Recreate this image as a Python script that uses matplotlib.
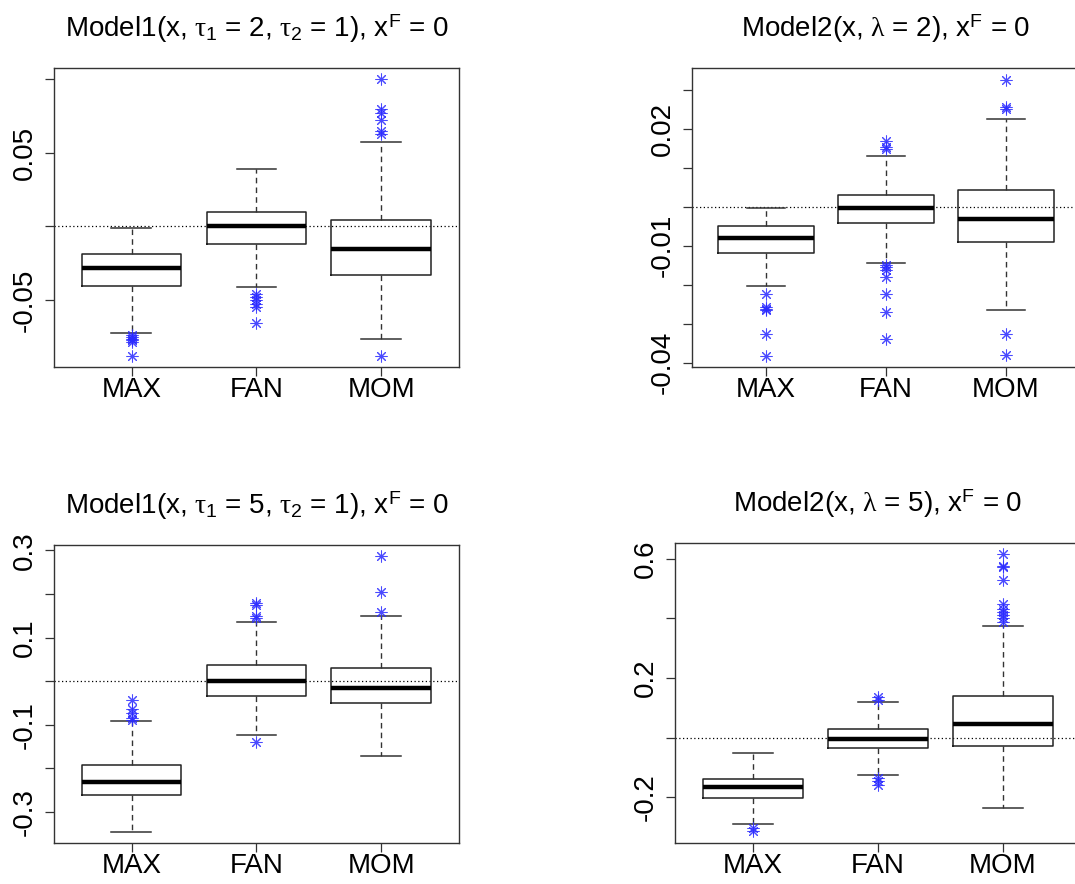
import matplotlib.pyplot as plt

plt.rcParams['font.family'] = ['Liberation Sans', 'DejaVu Sans']
plt.rcParams['mathtext.fontset'] = 'custom'
plt.rcParams['mathtext.rm'] = 'Liberation Sans'
plt.rcParams['mathtext.sf'] = 'Liberation Sans'
plt.rcParams['mathtext.it'] = 'Liberation Serif'
plt.rcParams['mathtext.bf'] = 'Liberation Sans:bold'

metodos = ["MAX", "FAN", "MOM"]

# Model1, tau1 = 2
m1a_med = [-0.0283, 0.0000, -0.0152]
m1a_q1 = [-0.0405, -0.0118, -0.0326]
m1a_q3 = [-0.0186, 0.0097, 0.0041]
m1a_lo = [-0.0724, -0.0410, -0.0760]
m1a_hi = [-0.0014, 0.0387, 0.0570]
m1a_fliers = [
    [-0.0738, -0.0749, -0.0760, -0.0771, -0.0780, -0.0880],
    [-0.0455, -0.0477, -0.0500, -0.0523, -0.0545, -0.0654],
    [0.1000, 0.0794, 0.0767, 0.0722, 0.0643, 0.0627, -0.0880],
]

# Model2, lambda = 2
m2a_med = [-0.0079, -0.0002, -0.0032]
m2a_q1 = [-0.0118, -0.0041, -0.0090]
m2a_q3 = [-0.0049, 0.0031, 0.0042]
m2a_lo = [-0.0204, -0.0144, -0.0264]
m2a_hi = [-0.0004, 0.0131, 0.0225]
m2a_fliers = [
    [-0.0225, -0.0258, -0.0261, -0.0264, -0.0326, -0.0384],
    [0.0170, 0.0154, 0.0147, -0.0150, -0.0154, -0.0161, -0.0180, -0.0223, -0.0270, -0.0340],
    [0.0326, 0.0257, 0.0252, -0.0326, -0.0381],
]

# Model1, tau1 = 5
m1b_med = [-0.2305, 0.0000, -0.0153]
m1b_q1 = [-0.2610, -0.0344, -0.0496]
m1b_q3 = [-0.1931, 0.0366, 0.0313]
m1b_lo = [-0.3458, -0.1229, -0.1725]
m1b_hi = [-0.0916, 0.1359, 0.1489]
m1b_fliers = [
    [-0.0443, -0.0641, -0.0733, -0.0847, -0.0885],
    [0.1786, 0.1748, 0.1496, 0.1458, -0.1397],
    [0.2878, 0.2038, 0.1595],
]

# Model2, lambda = 5
m2b_med = [-0.1665, -0.0034, 0.0458]
m2b_q1 = [-0.2034, -0.0358, -0.0268]
m2b_q3 = [-0.1397, 0.0279, 0.1385]
m2b_lo = [-0.2905, -0.1263, -0.2369]
m2b_hi = [-0.0514, 0.1184, 0.3743]
m2b_fliers = [
    [-0.3039, -0.3151],
    [0.1374, 0.1263, -0.1363, -0.1475, -0.1587],
    [0.6179, 0.5777, 0.5732, 0.5285, 0.4503, 0.4335, 0.4223, 0.4112, 0.4000, 0.3888],
]

titulos = [
    r"Model1(x, $\tau_1$ = 2, $\tau_2$ = 1), $\mathrm{x}^{\mathrm{F}}$ = 0",
    r"Model2(x, $\lambda$ = 2), $\mathrm{x}^{\mathrm{F}}$ = 0",
    r"Model1(x, $\tau_1$ = 5, $\tau_2$ = 1), $\mathrm{x}^{\mathrm{F}}$ = 0",
    r"Model2(x, $\lambda$ = 5), $\mathrm{x}^{\mathrm{F}}$ = 0",
]

ticks_y = [
    ([-0.05, 0.0, 0.05, 0.1], ["-0.05", "", "0.05", ""]),
    ([-0.04, -0.03, -0.02, -0.01, 0.0, 0.01, 0.02, 0.03],
     ["-0.04", "", "", "-0.01", "", "", "0.02", ""]),
    ([-0.3, -0.2, -0.1, 0.0, 0.1, 0.2, 0.3],
     ["-0.3", "", "-0.1", "", "0.1", "", "0.3"]),
    ([-0.2, 0.0, 0.2, 0.4, 0.6], ["-0.2", "", "0.2", "", "0.6"]),
]
limites_y = [(-0.0952, 0.1072), (-0.0411, 0.0356), (-0.371, 0.3122), (-0.3542, 0.6536)]

# posiciones de los ejes en pixeles (izq, der, arriba, abajo)
cajas_px = [(54, 459, 68, 367), (692, 1080, 68, 367),
            (54, 459, 545, 843), (675, 1080, 543, 843)]

paneles = [
    (m1a_med, m1a_q1, m1a_q3, m1a_lo, m1a_hi, m1a_fliers),
    (m2a_med, m2a_q1, m2a_q3, m2a_lo, m2a_hi, m2a_fliers),
    (m1b_med, m1b_q1, m1b_q3, m1b_lo, m1b_hi, m1b_fliers),
    (m2b_med, m2b_q1, m2b_q3, m2b_lo, m2b_hi, m2b_fliers),
]

W, H = 1075, 884
fig = plt.figure(figsize=(W / 100, H / 100), dpi=100)

for i, (med, q1, q3, lo, hi, fl) in enumerate(paneles):
    l, r, t, b = cajas_px[i]
    ax = fig.add_axes([l / W, 1 - b / H, (r - l) / W, (b - t) / H])

    stats = []
    for j in range(3):
        stats.append({"med": med[j], "q1": q1[j], "q3": q3[j],
                      "whislo": lo[j], "whishi": hi[j], "fliers": fl[j]})

    ax.axhline(0, color="black", lw=0.9, ls=(0, (1, 2)), zorder=0)
    ax.bxp(stats, positions=[1, 2, 3], widths=0.8, capwidths=0.32,
           boxprops=dict(color="#222222", lw=1.1),
           medianprops=dict(color="black", lw=3.2),
           whiskerprops=dict(color="#333333", lw=1.0, ls=(0, (4, 3))),
           capprops=dict(color="#333333", lw=1.1),
           flierprops=dict(marker=(8, 2, 0), markeredgecolor="#2a2aff",
                           markerfacecolor="none", markersize=8.5,
                           markeredgewidth=0.75, alpha=0.85,
                           linestyle="none"))

    ax.set_xlim(0.38, 3.62)
    ax.set_ylim(*limites_y[i])
    ax.set_xticks([1, 2, 3])
    ax.set_xticklabels(metodos)
    yt, ylab = ticks_y[i]
    ax.set_yticks(yt)
    ax.set_yticklabels(ylab, rotation=90, va="center")

    ax.tick_params(direction="out", length=6.5, width=0.9, labelsize=20,
                   color="#333333")
    ax.tick_params(axis="x", pad=1)
    ax.tick_params(axis="y", pad=5)
    for s in ax.spines.values():
        s.set_color("#333333")
        s.set_linewidth(1.0)

    ax.set_title(titulos[i], fontsize=20, pad=22)

fig.savefig("out.png", dpi=100)
